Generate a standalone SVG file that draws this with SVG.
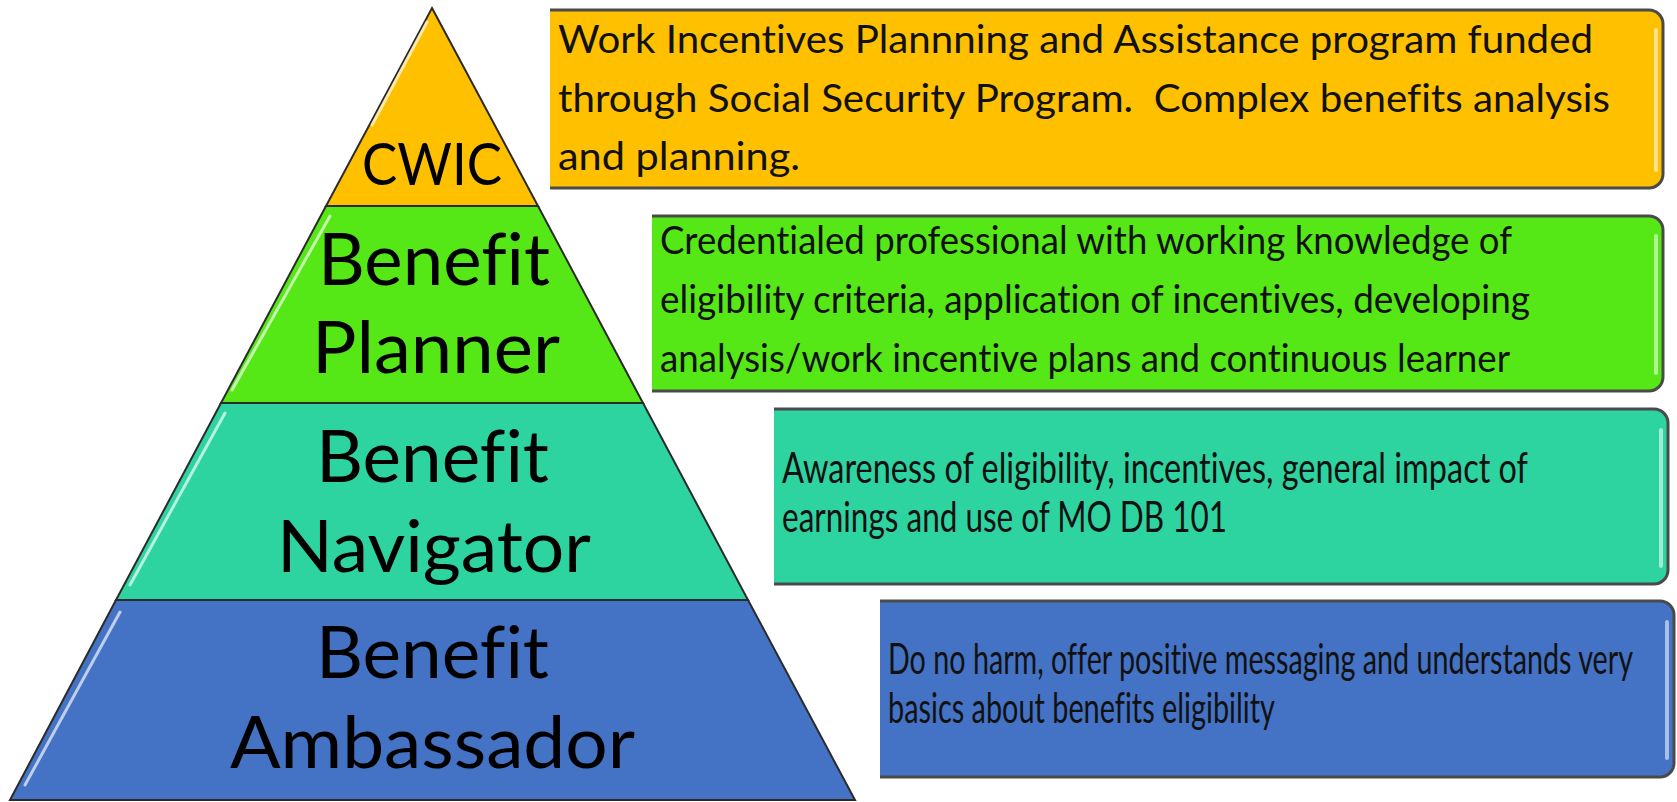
<svg xmlns="http://www.w3.org/2000/svg" width="1677" height="802" viewBox="0 0 1677 802">
<style>
  .layer { stroke: #2b2b2b; stroke-width: 2; stroke-linejoin: miter; }
  .gloss { stroke: #ffffff; stroke-opacity: 0.65; stroke-width: 3; fill: none; stroke-linecap: round; }
  .boxborder { fill: none; stroke: #4a4a4a; stroke-width: 3; }
  .boxgloss { stroke: #ffffff; stroke-opacity: 0.55; stroke-width: 4; stroke-linecap: round; }
  .lbl { font-family: Lato, "Open Sans", "Liberation Sans", sans-serif; fill: #000; font-variant-ligatures: none; }
  .big { font-size: 72px; }
  .desc { font-family: Lato, "Open Sans", "Liberation Sans", sans-serif; font-size: 39px; fill: #111; white-space: pre; font-variant-ligatures: none; }
  .descn { font-size: 42px; }
</style>
<rect width="1677" height="802" fill="#ffffff"/>

<g id="pyramid">
  <g id="cwic">
    <polygon class="layer" fill="#FFC000" points="432,8 538,206 326,206"/>
    <path class="gloss" d="M427,22 L372,125"/>
    <text class="lbl" x="362" y="185" font-size="58" textLength="140" lengthAdjust="spacingAndGlyphs">CWIC</text>
  </g>
  <g id="planner">
    <polygon class="layer" fill="#56E816" points="326,206 538,206 643,403 221,403"/>
    <path class="gloss" d="M330,216 L232,390"/>
    <text class="lbl big" x="318" y="285" textLength="232" lengthAdjust="spacingAndGlyphs">Benefit</text>
    <text class="lbl big" x="312" y="373" textLength="248" lengthAdjust="spacingAndGlyphs">Planner</text>
  </g>
  <g id="navigator">
    <polygon class="layer" fill="#2ED4A0" points="221,403 643,403 748,600 116,600"/>
    <path class="gloss" d="M225,413 L130,585"/>
    <text class="lbl big" x="316" y="482" textLength="233" lengthAdjust="spacingAndGlyphs">Benefit</text>
    <text class="lbl big" x="277" y="572" textLength="314" lengthAdjust="spacingAndGlyphs">Navigator</text>
  </g>
  <g id="ambassador">
    <polygon class="layer" fill="#4472C4" points="116,600 748,600 855,800 10,800"/>
    <path class="gloss" d="M120,612 L25,785"/>
    <text class="lbl big" x="316" y="678" textLength="233" lengthAdjust="spacingAndGlyphs">Benefit</text>
    <text class="lbl big" x="230" y="768" textLength="405" lengthAdjust="spacingAndGlyphs">Ambassador</text>
  </g>
</g>

<g id="box-cwic">
  <path fill="#FFC000" d="M550,10 H1649 A14,14 0 0 1 1663,24 V174 A14,14 0 0 1 1649,188 H550 Z"/>
  <path class="boxborder" d="M550,10 H1649 A14,14 0 0 1 1663,24 V174 A14,14 0 0 1 1649,188 H550"/>
  <line class="boxgloss" x1="1656" y1="30" x2="1656" y2="170"/>
  <text class="desc" x="558" y="53" textLength="1035" lengthAdjust="spacingAndGlyphs">Work Incentives Plannning and Assistance program funded</text>
  <text class="desc" x="558" y="112" textLength="1052" lengthAdjust="spacingAndGlyphs">through Social Security Program.  Complex benefits analysis</text>
  <text class="desc" x="558" y="170" textLength="242" lengthAdjust="spacingAndGlyphs">and planning.</text>
</g>

<g id="box-planner">
  <path fill="#56E816" d="M652,216 H1649 A14,14 0 0 1 1663,230 V377 A14,14 0 0 1 1649,391 H652 Z"/>
  <path class="boxborder" d="M652,216 H1649 A14,14 0 0 1 1663,230 V377 A14,14 0 0 1 1649,391 H652"/>
  <line class="boxgloss" x1="1656" y1="236" x2="1656" y2="373"/>
  <text class="desc" x="660" y="254" textLength="852" lengthAdjust="spacingAndGlyphs">Credentialed professional with working knowledge of</text>
  <text class="desc" x="660" y="313" textLength="870" lengthAdjust="spacingAndGlyphs">eligibility criteria, application of incentives, developing</text>
  <text class="desc" x="660" y="372" textLength="850" lengthAdjust="spacingAndGlyphs">analysis/work incentive plans and continuous learner</text>
</g>

<g id="box-navigator">
  <path fill="#2ED4A0" d="M774,409 H1654 A14,14 0 0 1 1668,423 V570 A14,14 0 0 1 1654,584 H774 Z"/>
  <path class="boxborder" d="M774,409 H1654 A14,14 0 0 1 1668,423 V570 A14,14 0 0 1 1654,584 H774"/>
  <line class="boxgloss" x1="1661" y1="430" x2="1661" y2="566"/>
  <text class="desc descn" x="782" y="483" textLength="746" lengthAdjust="spacingAndGlyphs">Awareness of eligibility, incentives, general impact of</text>
  <text class="desc descn" x="782" y="532" textLength="445" lengthAdjust="spacingAndGlyphs">earnings and use of MO DB 101</text>
</g>

<g id="box-ambassador">
  <path fill="#4472C4" d="M880,601 H1660 A14,14 0 0 1 1674,615 V763 A14,14 0 0 1 1660,777 H880 Z"/>
  <path class="boxborder" d="M880,601 H1660 A14,14 0 0 1 1674,615 V763 A14,14 0 0 1 1660,777 H880"/>
  <line class="boxgloss" x1="1667" y1="622" x2="1667" y2="758"/>
  <text class="desc descn" x="888" y="674" textLength="745" lengthAdjust="spacingAndGlyphs">Do no harm, offer positive messaging and understands very</text>
  <text class="desc descn" x="888" y="723" textLength="387" lengthAdjust="spacingAndGlyphs">basics about benefits eligibility</text>
</g>

<g id="connectors"></g>
</svg>
